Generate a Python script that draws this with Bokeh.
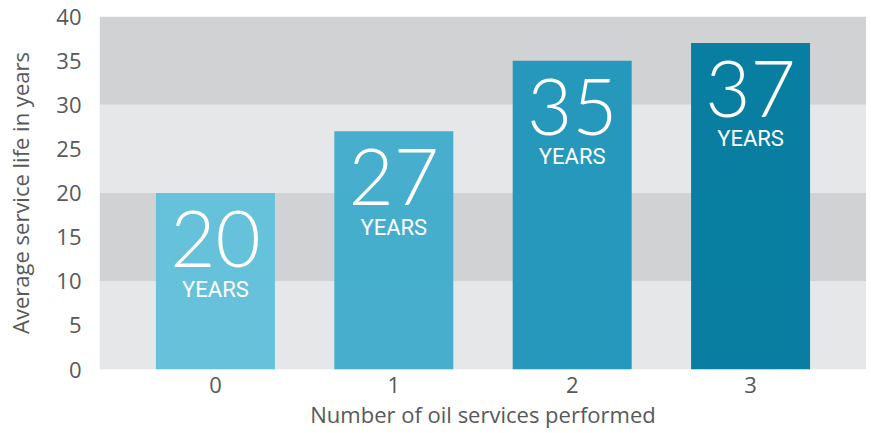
from bokeh.plotting import figure
from bokeh.models import Range1d, FixedTicker, BoxAnnotation
from bokeh.core.properties import value
from bokeh.embed import file_html
from bokeh.resources import INLINE

# ---- data ----
categories = ["0", "1", "2", "3"]
service_life = [20, 27, 35, 37]
value_labels = ["20", "27", "35", "37"]
unit_labels = ["YEARS", "YEARS", "YEARS", "YEARS"]
bar_colors = ["#62bfda", "#41accc", "#1e95b9", "#007a9d"]
band_bottoms = [0, 10, 20, 30]
band_tops = [10, 20, 30, 40]
band_colors = ["#e6e7e9", "#d1d2d4", "#e6e7e9", "#d1d2d4"]
y_ticks = [0, 5, 10, 15, 20, 25, 30, 35, 40]

x_pos = list(range(len(categories)))

p = figure(width=866, height=432, output_backend="svg", toolbar_location=None,
           x_range=Range1d(-0.65, 3.65), y_range=Range1d(0, 40),
           min_border_left=99, min_border_right=0, min_border_top=16, min_border_bottom=63)
p.outline_line_color = None
p.background_fill_color = "white"
p.border_fill_color = "white"
p.grid.visible = False

for b, t, c in zip(band_bottoms, band_tops, band_colors):
    p.add_layout(BoxAnnotation(bottom=b, top=t, fill_color=c, fill_alpha=1.0,
                               line_color=None, level="underlay"))

p.vbar(x=x_pos, top=service_life, bottom=0, width=0.667, fill_color=bar_colors,
       fill_alpha=0.96, line_color=None)

p.text(x=x_pos, y=service_life, text=value_labels, text_font=value("Lato Light"),
       text_font_size="78px", text_color="white", text_align="center",
       text_baseline="alphabetic", y_offset=46)
p.text(x=x_pos, y=service_life, text=unit_labels, text_font=value("Roboto"),
       text_font_size="22px", text_color="white", text_align="center",
       text_baseline="alphabetic", y_offset=96)

label_color = "#58595b"
for ax in (p.xaxis[0], p.yaxis[0]):
    ax.axis_line_color = None
    ax.major_tick_line_color = None
    ax.minor_tick_line_color = None
    ax.major_tick_out = 0
    ax.major_tick_in = 0
    ax.major_label_text_font = "Open Sans"
    ax.major_label_text_font_size = "22px"
    ax.major_label_text_color = label_color
    ax.axis_label_text_font = "Open Sans"
    ax.axis_label_text_font_size = "22px"
    ax.axis_label_text_font_style = "normal"
    ax.axis_label_text_color = label_color

p.xaxis.ticker = FixedTicker(ticks=x_pos)
p.xaxis.major_label_overrides = {i: c for i, c in zip(x_pos, categories)}
p.xaxis.major_label_standoff = 7
p.xaxis.axis_label = "Number of oil services performed"
p.xaxis.axis_label_standoff = 3

p.yaxis.ticker = FixedTicker(ticks=y_ticks)
p.yaxis.major_label_standoff = 18
p.yaxis.axis_label = "Average service life in years"
p.yaxis.axis_label_standoff = 18

open("out.html", "w").write(file_html(p, INLINE))
